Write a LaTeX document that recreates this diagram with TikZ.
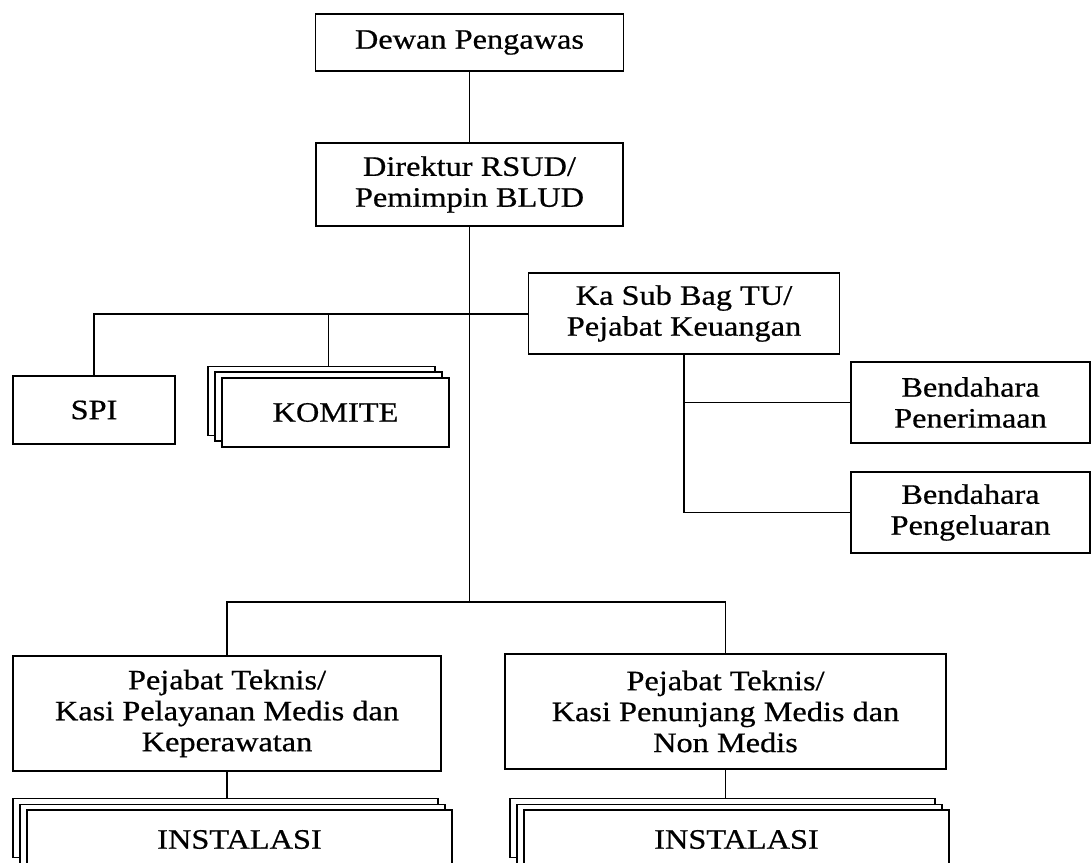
\documentclass[tikz,border=0pt]{standalone}
\usepackage{fontspec}
\setmainfont{Liberation Serif}[FakeStretch=1.15,FakeBold=0.6]
\begin{document}
\begin{tikzpicture}[x=0.025cm,y=-0.025cm,
  box/.style={draw, line width=1.4pt, fill=white, align=center, inner sep=2pt,
    font=\fontsize{20}{22}\selectfont},
  sz/.style 2 args={minimum width=#1*0.025cm, minimum height=#2*0.025cm},
  link/.style={line width=1.3pt}]

\useasboundingbox (0,0) rectangle (1091,862);

% top of the chart
\node [box, sz={308}{57}] (dewan) at (469.5,42.5) {Dewan Pengawas};
\node [box, sz={307}{83}] (direktur) at (469.5,184.5) {Direktur RSUD/\\Pemimpin BLUD};

\coordinate (lvl1) at (469.5,314);
\coordinate (lvl2) at (469.5,602);

% staff level
\node [box, sz={162}{68}] (spi) at (94,410) {SPI};
\node [box, sz={227}{69}] (komiteC) at (321.5,401) {};
\node [box, sz={227}{69}] (komiteB) at (328.5,406.5) {};
\node [box, sz={227}{69}] (komite) at (335.5,412.5) {KOMITE};

\node [box, sz={311}{81}] (kasub) at (684,313.5) {Ka Sub Bag TU/\\Pejabat Keuangan};
\node [box, sz={239}{81}] (bendP) at (970.5,402.5) {Bendahara\\Penerimaan};
\node [box, sz={239}{81}] (bendK) at (970.5,512.5) {Bendahara\\Pengeluaran};

% technical level
\node [box, sz={428}{115}] (teknisA) at (227,713.5) {Pejabat Teknis/\\Kasi Pelayanan Medis dan\\Keperawatan};
\node [box, sz={441}{115}] (teknisB) at (725.5,711.5) {Pejabat Teknis/\\Kasi Penunjang Medis dan\\Non Medis};

\node [box, sz={425}{59}] (instAC) at (225.5,828) {};
\node [box, sz={425}{59}] (instAB) at (232.5,834) {};
\node [box, sz={425}{59}] (instA) at (239.5,839.5) {INSTALASI};
\node [box, sz={425}{59}] (instBC) at (722.5,828) {};
\node [box, sz={425}{59}] (instBB) at (729.5,834) {};
\node [box, sz={425}{59}] (instB) at (736.5,839.5) {INSTALASI};

% lines
\draw [link] (dewan) -- (direktur);
\draw [link] (direktur.south) -- (lvl2);
\draw [link] (spi.north) |- (lvl1);
\draw [link] (komiteB.north |- lvl1) -- (komiteC.north -| komiteB.north);
\draw [link] (lvl1) -- (lvl1 -| kasub.west);
\draw [link] (kasub.south) -- (kasub.south |- bendK.west);
\draw [link] (kasub.south |- bendP.west) -- (bendP.west);
\draw [link] (kasub.south |- bendK.west) -- (bendK.west);
\draw [link] (teknisA.north) |- (lvl2) -| (teknisB.north);
\draw [link] (teknisA.south) -- (teknisA.south |- instAC.north);
\draw [link] (teknisB.south) -- (teknisB.south |- instBC.north);

\end{tikzpicture}
\end{document}
